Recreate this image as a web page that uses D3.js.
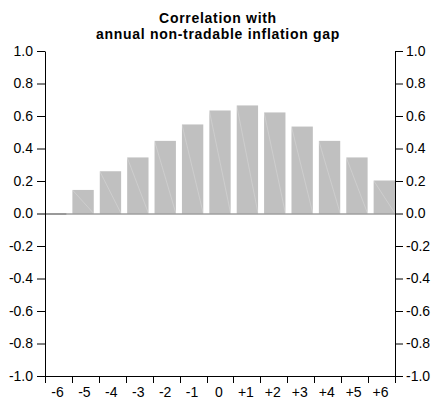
<!DOCTYPE html>
<html>
<head>
<meta charset="utf-8">
<script src="https://cdn.jsdelivr.net/npm/d3@7"></script>
<style>
  html, body { margin: 0; padding: 0; background: #fff; }
  svg { display: block; font-family: "Liberation Sans", Arial, sans-serif; }
</style>
</head>
<body>
<svg id="chart" width="433" height="401"></svg>
<script>
const categories = ["-6", "-5", "-4", "-3", "-2", "-1", "0", "+1", "+2", "+3", "+4", "+5", "+6"];
const values = [0.0, 0.145, 0.26, 0.345, 0.447, 0.548, 0.634, 0.665, 0.622, 0.535, 0.447, 0.345, 0.203];
const yTicks = [-1.0, -0.8, -0.6, -0.4, -0.2, 0.0, 0.2, 0.4, 0.6, 0.8, 1.0];
const titleLines = ["Correlation with", "annual non-tradable inflation gap"];

const svg = d3.select("#chart");
const L = 45, R = 395, T = 51, B = 376;

const y = d3.scaleLinear().domain([-1, 1]).range([B, T]);
const xBar = d3.scaleBand().domain(categories).range([L, R]).paddingInner(0.22).paddingOuter(0);
const xAxisScale = d3.scaleBand().domain(categories).range([L, R]).padding(0);

const fmt = v => (v < 0 ? "-" : "") + Math.abs(v).toFixed(1);

// Title
svg.append("g").selectAll("text").data(titleLines).join("text")
  .attr("x", 218).attr("y", (d, i) => 22.5 + i * 16)
  .attr("text-anchor", "middle")
  .attr("font-weight", "bold").attr("font-size", 14)
  .attr("letter-spacing", 0.7)
  .attr("fill", "#000")
  .text(d => d);

// Bars
const bars = svg.append("g");
const data = categories.map((c, i) => ({ c, v: values[i] }));
bars.selectAll("rect").data(data.filter(d => d.v !== 0)).join("rect")
  .attr("x", d => xBar(d.c))
  .attr("width", xBar.bandwidth())
  .attr("y", d => y(Math.max(0, d.v)))
  .attr("height", d => Math.abs(y(d.v) - y(0)))
  .attr("fill", "#c0c0c0");
bars.selectAll("line").data(data.filter(d => d.v !== 0)).join("line")
  .attr("x1", d => xBar(d.c)).attr("y1", d => y(Math.max(0, d.v)))
  .attr("x2", d => xBar(d.c) + xBar.bandwidth()).attr("y2", y(0))
  .attr("stroke", "#fff").attr("stroke-opacity", 0.35).attr("stroke-width", 0.6);

// Zero line
svg.append("line")
  .attr("x1", L).attr("x2", R).attr("y1", y(0) + 0.5).attr("y2", y(0) + 0.5)
  .attr("stroke", "#707070").attr("stroke-width", 1.2);

// Zero-valued bars drawn as thin marks on the zero line
bars.append("g").selectAll("rect").data(data.filter(d => d.v === 0)).join("rect")
  .attr("x", d => xBar(d.c))
  .attr("width", xBar.bandwidth())
  .attr("y", y(0) - 0.2)
  .attr("height", 1.4)
  .attr("fill", "#a8a8a8");

// Left axis
const leftAxis = d3.axisLeft(y).tickValues(yTicks).tickFormat(fmt).tickSize(8).tickSizeOuter(0).tickPadding(4);
const gl = svg.append("g").attr("transform", `translate(${L},0)`).call(leftAxis);
// Right axis
const rightAxis = d3.axisRight(y).tickValues(yTicks).tickFormat(fmt).tickSize(8).tickSizeOuter(0).tickPadding(3);
const gr = svg.append("g").attr("transform", `translate(${R},0)`).call(rightAxis);

[gl, gr].forEach(g => {
  g.selectAll("text").attr("font-size", 14).attr("fill", "#000").attr("font-family", "'Liberation Sans', Arial, sans-serif");
  g.selectAll("line").attr("stroke", "#000");
  g.select(".domain").attr("stroke", "#000");
});

// Bottom axis
const gb = svg.append("g");
gb.append("line").attr("x1", L).attr("x2", R).attr("y1", B + 0.5).attr("y2", B + 0.5).attr("stroke", "#000");
const tickPos = categories.map(c => xAxisScale(c)).concat([R]);
gb.selectAll("line.tk").data(tickPos).join("line").attr("class", "tk")
  .attr("x1", d => Math.round(d) + 0.5).attr("x2", d => Math.round(d) + 0.5)
  .attr("y1", B).attr("y2", B + 7).attr("stroke", "#000");
gb.selectAll("text").data(categories).join("text")
  .attr("x", c => xAxisScale(c) + xAxisScale.bandwidth() / 2 - 1)
  .attr("y", 397)
  .attr("text-anchor", "middle")
  .attr("font-size", 14).attr("fill", "#000")
  .text(c => c);
</script>
</body>
</html>
